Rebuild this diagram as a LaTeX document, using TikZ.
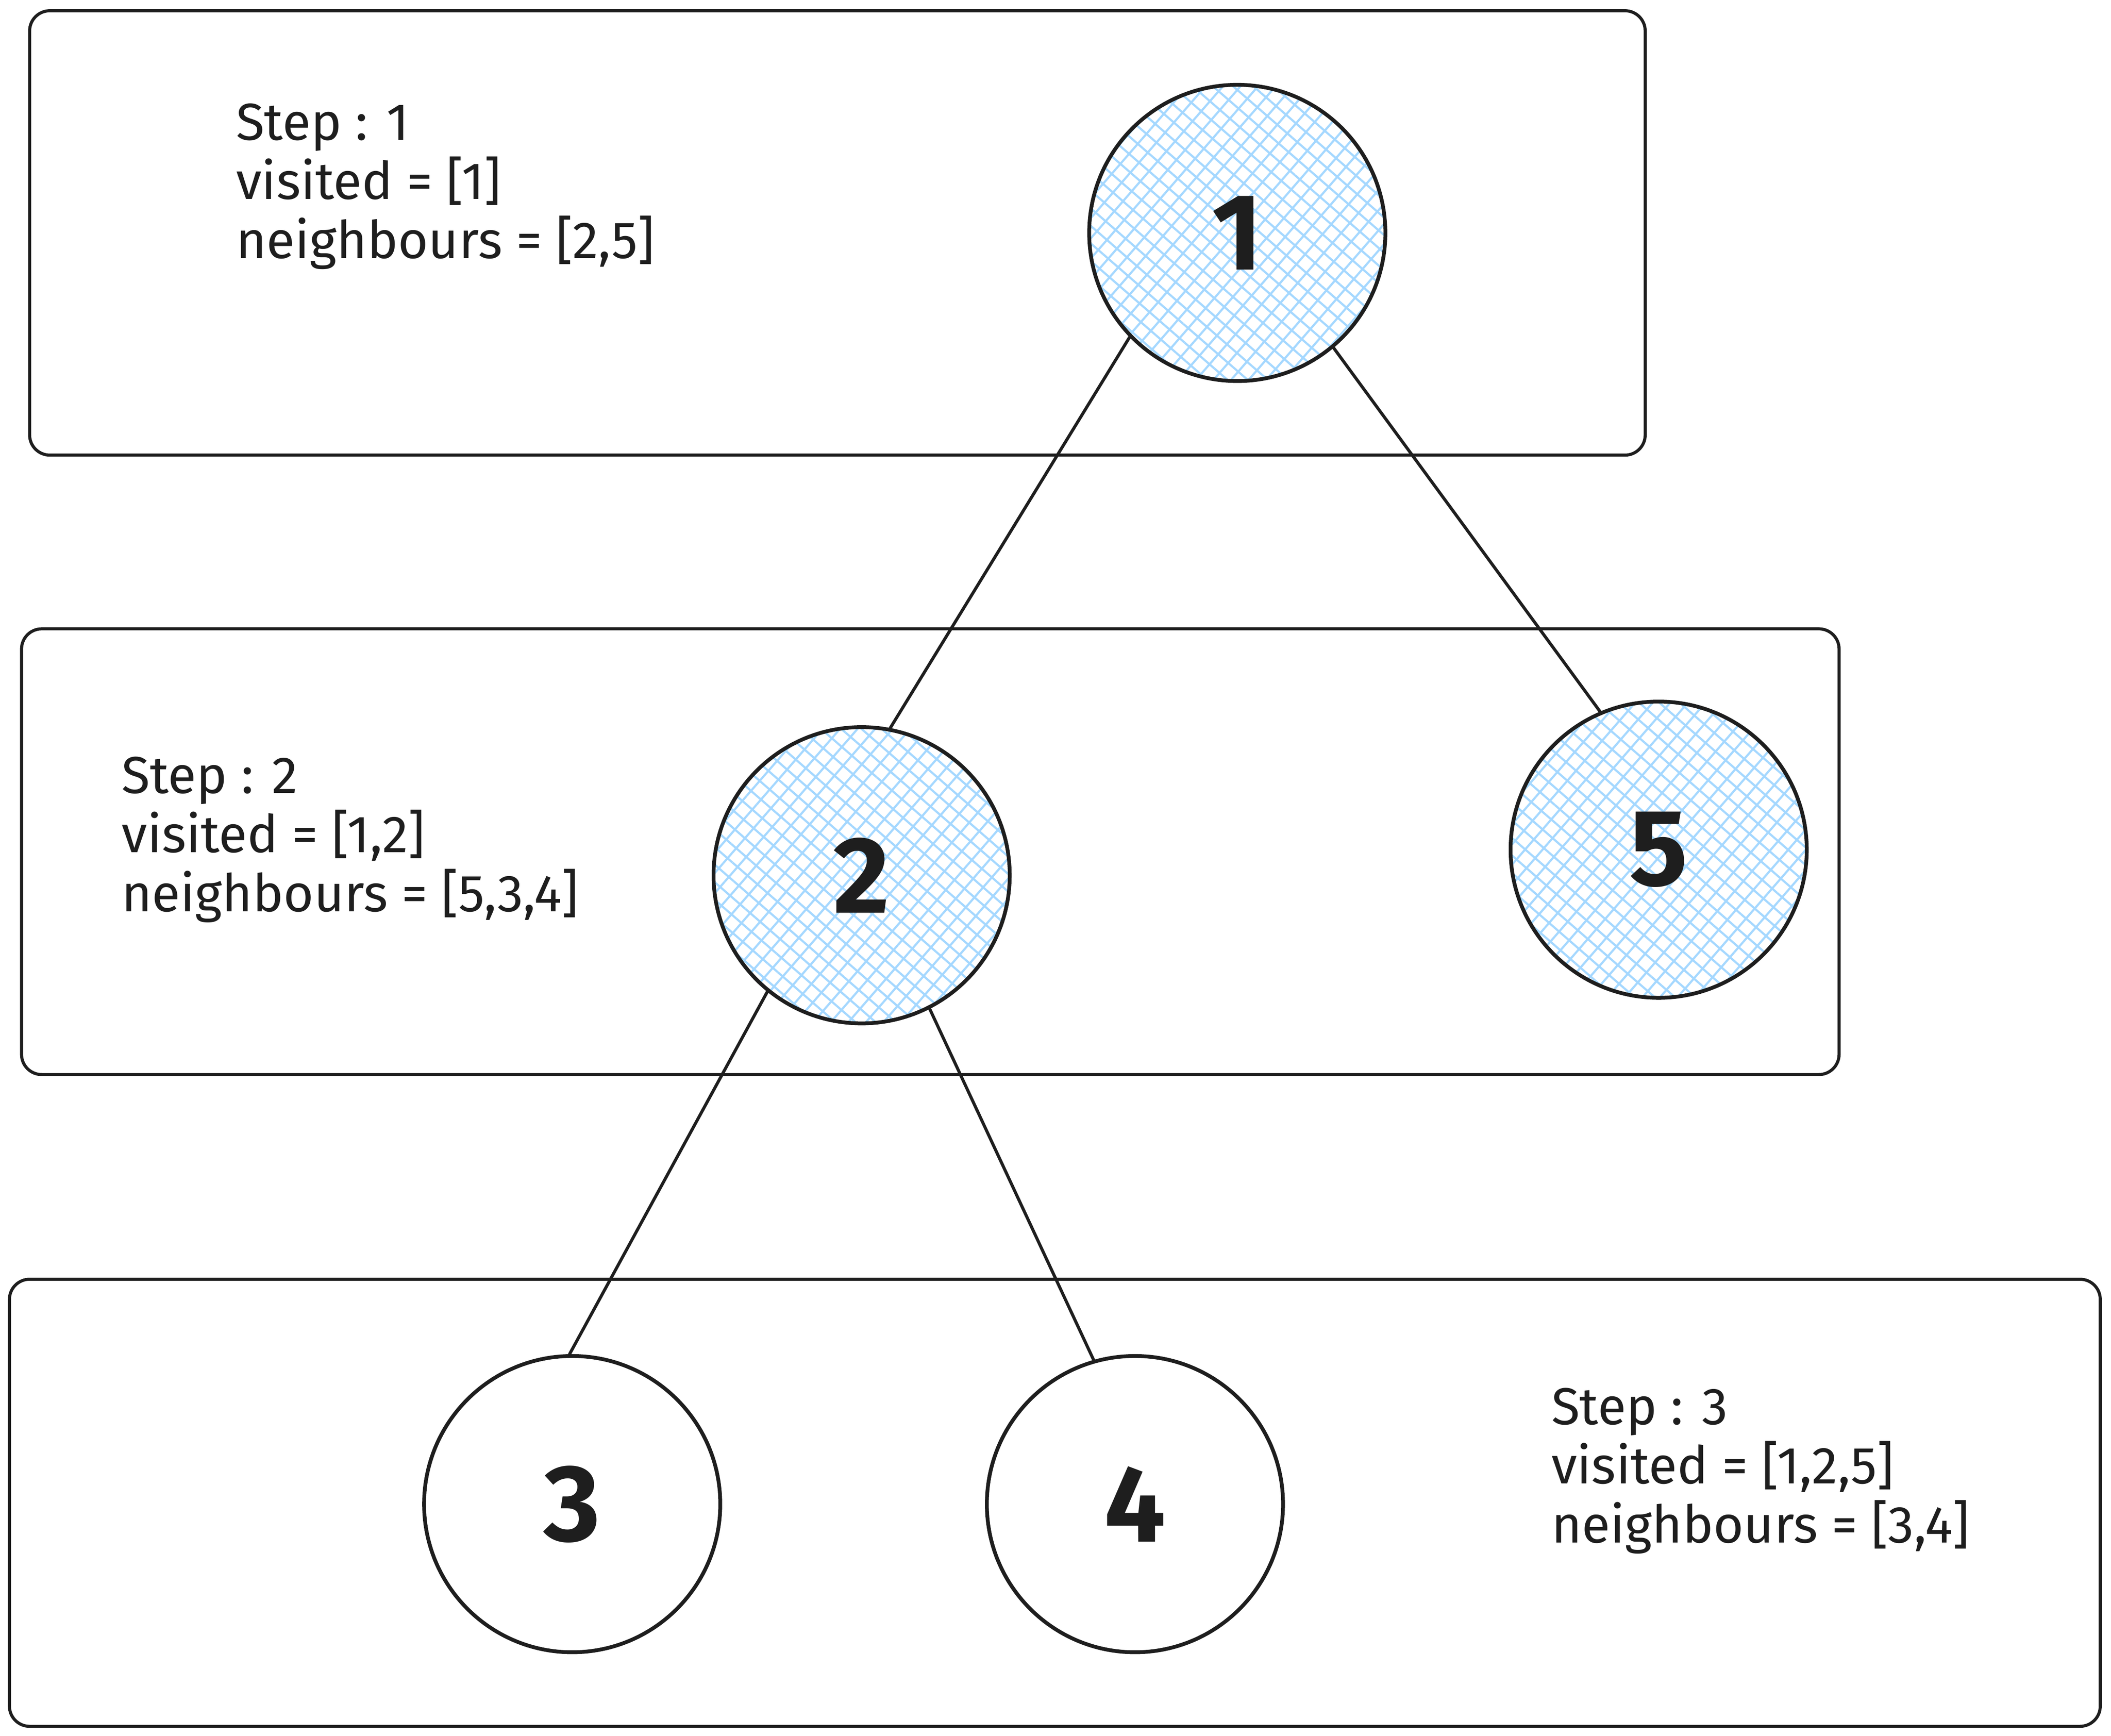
\documentclass[tikz,border=0pt]{standalone}
\usepackage{fontspec}
\setmainfont{Fira Sans}
\usetikzlibrary{patterns.meta}
\definecolor{inkblack}{HTML}{1E1E1E}
\definecolor{hatchblue}{HTML}{A5D8FF}

\begin{document}
\begin{tikzpicture}[
    stepbox/.style={draw=inkblack,line width=1.3pt,rounded corners=0.3cm},
    vertex/.style={circle,draw=inkblack,line width=1.6pt,minimum size=4.4cm,inner sep=0pt,
        font=\fontsize{46}{50}\selectfont\bfseries,text=inkblack},
    visited/.style={vertex,
        preaction={pattern={Lines[angle=49,distance=5.6pt,line width=0.9pt]},pattern color=hatchblue},
        pattern={Lines[angle=-41,distance=5.6pt,line width=0.9pt]},pattern color=hatchblue},
    steptext/.style={anchor=north west,align=left,inner sep=0pt,
        font=\fontsize{22}{25}\selectfont,text=inkblack},
    link/.style={draw=inkblack,line width=1.3pt,line cap=round}
  ]
                \useasboundingbox (0,0) rectangle (31.36,25.78);
                % one box per step
                \draw[stepbox] (0.44,19.02) rectangle (24.44,25.62);
                \draw[stepbox] (0.32,9.82) rectangle (27.32,16.44);
                \draw[stepbox] (0.14,0.14) rectangle (31.2,6.78);
                % the tree
                \node[visited] (n1) at (18.38,22.32) {1};
                \node[visited] (n2) at (12.80,12.78) {2};
                \node[visited] (n5) at (24.64,13.16) {5};
                \node[vertex] (n3) at (8.50,3.44) {3};
                \node[vertex] (n4) at (16.86,3.44) {4};
                \draw[link] (n1.224) -- (n2.79);
                \draw[link] (n1.310) -- (n5.113);
                \draw[link] (n2.231) -- (n3.91);
                \draw[link] (n2.297) -- (n4.106);
                % state of the search
                \node[steptext] (s1) at (3.5,24.25) {Step : 1\\visited = [1]\\neighbours = [2,5]};
                \node[steptext] (s2) at (1.8,14.55) {Step : 2\\visited = [1,2]\\neighbours = [5,3,4]};
                \node[steptext] (s3) at (23.04,5.17) {Step : 3\\visited = [1,2,5]\\neighbours = [3,4]};
            \end{tikzpicture}
\end{document}
